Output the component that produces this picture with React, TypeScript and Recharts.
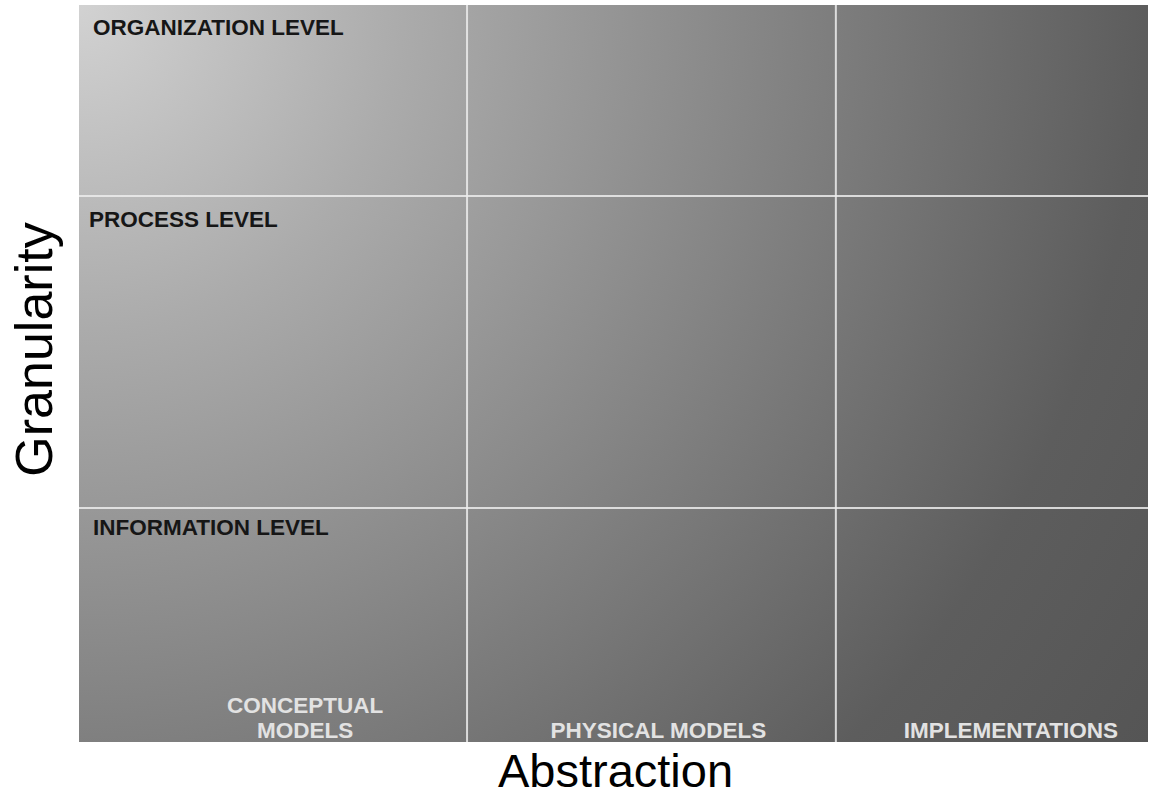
import React from 'react';
import { ComposedChart, XAxis, YAxis, ReferenceArea, ReferenceLine } from 'recharts';

// Conceptual matrix: Abstraction (x) vs Granularity (y), domain 0..100
const columnNames = ['CONCEPTUAL MODELS', 'PHYSICAL MODELS', 'IMPLEMENTATIONS'];
const columnLabelLines = [['CONCEPTUAL', 'MODELS'], ['PHYSICAL MODELS'], ['IMPLEMENTATIONS']];
const columnBounds = [0, 36.3, 70.8, 100];
const rowNames = ['ORGANIZATION LEVEL', 'PROCESS LEVEL', 'INFORMATION LEVEL'];
const rowBounds = [100, 74.1, 31.75, 0];
const xAxisTitle = 'Abstraction';
const yAxisTitle = 'Granularity';

// styling only
const FONT = '"Liberation Sans", Arial, Helvetica, sans-serif';
const columnNudge = [32, 7, 19];
const rowNudge = [{ dx: 14, dy: 30 }, { dx: 10, dy: 31 }, { dx: 14, dy: 27 }];

const Background = (props: any) => {
  const { x, y, width, height } = props;
  const r = Math.hypot(width, height);
  return (
    <g>
      <defs>
        <radialGradient id="bgGrad" gradientUnits="userSpaceOnUse" cx={x} cy={y} r={r}>
          <stop offset="0" stopColor="#d2d2d2" />
          <stop offset="0.25" stopColor="#ababab" />
          <stop offset="0.57" stopColor="#7f7f7f" />
          <stop offset="0.82" stopColor="#5d5d5d" />
          <stop offset="1" stopColor="#555555" />
        </radialGradient>
      </defs>
      <rect x={x} y={y} width={width} height={height} fill="url(#bgGrad)" />
    </g>
  );
};

const RowLabel = (props: any) => {
  const { viewBox, text, dx, dy } = props;
  if (!viewBox) return null;
  return (
    <text x={viewBox.x + dx} y={viewBox.y + dy} fill="#161616" fontFamily={FONT}
      fontWeight="bold" fontSize={22.5}>{text}</text>
  );
};

const ColumnLabel = (props: any) => {
  const { viewBox, lines, nudge } = props;
  if (!viewBox) return null;
  const cx = viewBox.x + viewBox.width / 2 + nudge;
  const bottom = viewBox.y + viewBox.height - 4;
  const lh = 25;
  return (
    <text textAnchor="middle" fill="#e2e2e2" fontFamily={FONT} fontWeight="bold" fontSize={22.5}>
      {lines.map((l: string, i: number) => (
        <tspan key={i} x={cx} y={bottom - (lines.length - 1 - i) * lh}>{l}</tspan>
      ))}
    </text>
  );
};

const XTitle = (props: any) => {
  const { viewBox } = props;
  if (!viewBox) return null;
  return (
    <text x={viewBox.x + viewBox.width / 2 + 2} y={viewBox.y + 45} textAnchor="middle"
      fill="#000" fontFamily={FONT} fontSize={47}>{xAxisTitle}</text>
  );
};

const YTitle = (props: any) => {
  const { viewBox } = props;
  if (!viewBox) return null;
  const x = viewBox.x + 52;
  const y = viewBox.y + viewBox.height / 2 - 24;
  return (
    <text x={x} y={y} transform={`rotate(-90 ${x} ${y})`} textAnchor="middle"
      fill="#000" fontFamily={FONT} fontSize={52}>{yAxisTitle}</text>
  );
};

export default function App() {
  return (
    <div style={{ position: 'absolute', left: 0, top: 0, width: 1151, height: 797, background: '#fff' }}>
      <ComposedChart width={1151} height={797} data={[]}
        margin={{ top: 5, right: 3, bottom: 0, left: 0 }}>
        <XAxis type="number" dataKey="x" domain={[0, 100]} allowDataOverflow tick={false}
          axisLine={false} tickLine={false} height={55} label={<XTitle />} />
        <YAxis type="number" dataKey="y" domain={[0, 100]} allowDataOverflow tick={false}
          axisLine={false} tickLine={false} width={79} label={<YTitle />} />
        <ReferenceArea x1={0} x2={100} y1={0} y2={100} shape={<Background />} isFront={false} />
        {columnBounds.slice(1, -1).map((b, i) => (
          <ReferenceLine key={'v' + i} x={b} stroke="#ececec" strokeWidth={2} strokeOpacity={0.85} />
        ))}
        {rowBounds.slice(1, -1).map((b, i) => (
          <ReferenceLine key={'h' + i} y={b} stroke="#ececec" strokeWidth={2} strokeOpacity={0.85} />
        ))}
        {rowNames.map((name, i) => (
          <ReferenceArea key={'r' + name} x1={0} x2={100} y1={rowBounds[i + 1]} y2={rowBounds[i]}
            fill="none" fillOpacity={0} stroke="none"
            label={<RowLabel text={name} dx={rowNudge[i].dx} dy={rowNudge[i].dy} />} />
        ))}
        {columnNames.map((name, i) => (
          <ReferenceArea key={'c' + name} x1={columnBounds[i]} x2={columnBounds[i + 1]} y1={0} y2={100}
            fill="none" fillOpacity={0} stroke="none"
            label={<ColumnLabel lines={columnLabelLines[i]} nudge={columnNudge[i]} />} />
        ))}
      </ComposedChart>
    </div>
  );
}
